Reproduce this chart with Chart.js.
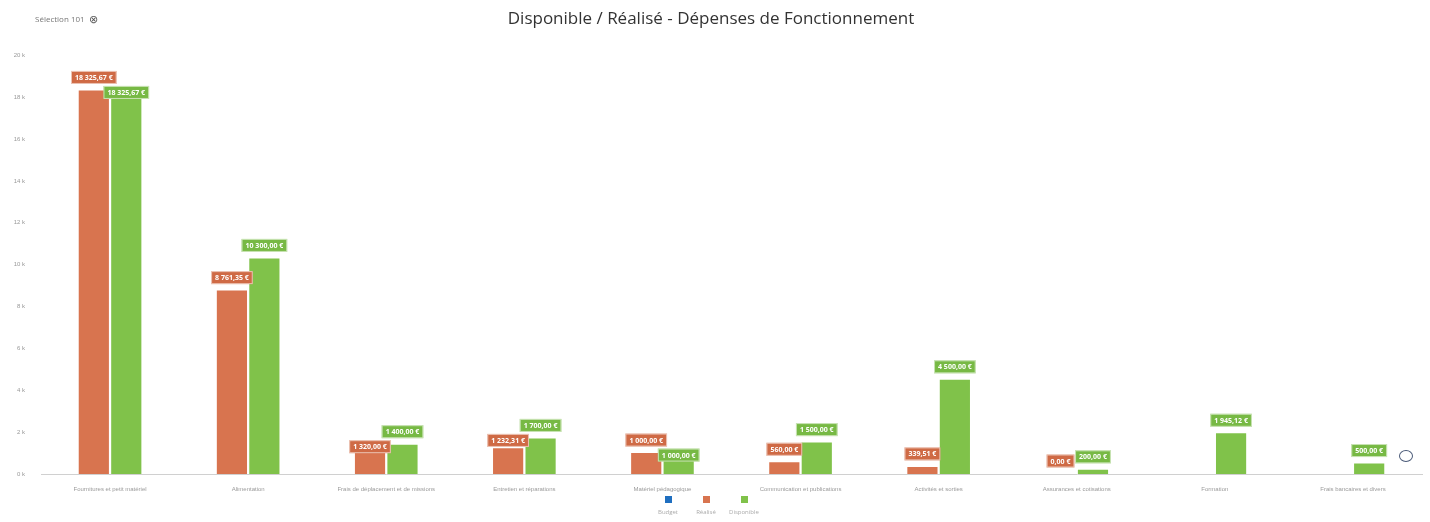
<!DOCTYPE html>
<html lang="fr">
<head>
<meta charset="utf-8">
<title>Disponible / Réalisé - Dépenses de Fonctionnement</title>
<script src="https://cdn.jsdelivr.net/npm/chart.js@4/dist/chart.umd.min.js"></script>
<style>
  html, body { margin: 0; padding: 0; background: #fff; }
  #wrap { position: relative; width: 1430px; height: 522px; font-family: "Open Sans", sans-serif; }
  #selection { position: absolute; left: 35px; top: 11px; font-size: 8px; color: #777; }
  #selection span { font-size: 11px; color: #555; margin-left: 4px; vertical-align: -1px; }
  #ring { position: absolute; left: 1399px; top: 450px; width: 12px; height: 10px; border: 1.5px solid #4a5a78; border-radius: 50%; }
  #legend { position: absolute; left: 649px; top: 496px; display: flex; }
  #legend .item { width: 38px; display: flex; flex-direction: column; align-items: center; }
  #legend .box { width: 7px; height: 7px; }
  #legend .txt { font-size: 6px; color: #aaa; margin-top: 5px; white-space: nowrap; }
</style>
</head>
<body>
<div id="wrap">
  <canvas id="chart" width="1430" height="522"></canvas>
  <div id="selection">Sélection 101<span>⊗</span></div>
  <div id="ring"></div>
  <div id="legend"></div>
</div>
<script>
// catégories de dépenses
var categories = [
  'Fournitures et petit matériel',
  'Alimentation',
  'Frais de déplacement et de missions',
  'Entretien et réparations',
  'Matériel pédagogique',
  'Communication et publications',
  'Activités et sorties',
  'Assurances et cotisations',
  'Formation',
  'Frais bancaires et divers'
];
var seriesNames = ['Budget', 'Réalisé', 'Disponible'];
var seriesColors = ['#1f6fc0', '#d8744f', '#80c24a'];
var labelColors = ['#1f6fc0', '#cf6a45', '#77b944'];

var budget = [];
var realise = [18325.67, 8761.35, 1320.00, 1232.31, 1000.00, 560.00, 339.51, 0, null, null];
var disponible = [18325.67, 10300.00, 1400.00, 1700.00, 1000.00, 1500.00, 4500.00, 200.00, 1945.12, 500.00];

var yMax = 20000;
var yStep = 2000;

function euro(v) {
    var parts = v.toFixed(2).split('.');
    var ent = parts[0].replace(/\B(?=(\d{3})+(?!\d))/g, ' ');
    return ent + ',' + parts[1] + ' €';
}

// etiquettes de valeur au-dessus des barres
var valueLabels = {
    id: 'valueLabels',
    afterDatasetsDraw: function (chart) {
        var ctx = chart.ctx;
        ctx.save();
        ctx.font = 'bold 7px "Open Sans", sans-serif';
        ctx.textAlign = 'center';
        ctx.textBaseline = 'middle';
        var h = 13;
        for (var i = 0; i < categories.length; i++) {
            var items = [];
            chart.data.datasets.forEach(function (ds, d) {
                var meta = chart.getDatasetMeta(d);
                if (meta.hidden || ds.hidden) return;
                var v = ds.data[i];
                if (v === null || v === undefined) return;
                var bar = meta.data[i];
                var txt = euro(v);
                items.push({ v: v, d: d, x: bar.x, cy: bar.y - 13, w: ctx.measureText(txt).width + 8, txt: txt });
            });
            // decaler l'etiquette basse si elles se chevauchent
            if (items.length === 2) {
                var a = items[0], b = items[1];
                var up = b.v > a.v ? b : a;
                var low = up === a ? b : a;
                var overlapX = Math.abs(a.x - b.x) < (a.w + b.w) / 2;
                if (overlapX && Math.abs(a.cy - b.cy) < h + 2) {
                    low.cy = up.cy + h + 2;
                }
            }
            items.forEach(function (it) {
                ctx.fillStyle = labelColors[it.d];
                ctx.fillRect(it.x - it.w / 2, it.cy - h / 2, it.w, h);
                ctx.strokeStyle = 'rgba(255,255,255,0.6)';
                ctx.lineWidth = 1;
                ctx.strokeRect(it.x - it.w / 2 + 0.5, it.cy - h / 2 + 0.5, it.w - 1, h - 1);
                ctx.fillStyle = '#fff';
                ctx.fillText(it.txt, it.x, it.cy + 0.5);
            });
        }
        ctx.restore();
    }
};

var chart = new Chart(document.getElementById('chart').getContext('2d'), {
    type: 'bar',
    data: {
        labels: categories,
        datasets: [
            { label: seriesNames[0], data: budget, backgroundColor: seriesColors[0], hidden: true },
            { label: seriesNames[1], data: realise, backgroundColor: seriesColors[1] },
            { label: seriesNames[2], data: disponible, backgroundColor: seriesColors[2] }
        ]
    },
    options: {
        responsive: false,
        animation: false,
        categoryPercentage: 0.47,
        barPercentage: 0.93,
        layout: { padding: { left: 0, right: 8, top: 0, bottom: 30 } },
        plugins: {
            legend: { display: false },
            tooltip: { enabled: false },
            title: {
                display: true,
                text: 'Disponible / Réalisé - Dépenses de Fonctionnement',
                color: '#333',
                font: { family: '"Open Sans", sans-serif', size: 17, weight: 'normal' },
                padding: { top: 9, bottom: 26 }
            }
        },
        scales: {
            x: {
                grid: { display: false },
                border: { display: true, color: '#d0d0d0' },
                ticks: { color: '#9a9a9a', font: { size: 6 }, maxRotation: 0, autoSkip: false, padding: 4 },
                afterFit: function (s) { s.height = 18; }
            },
            y: {
                min: 0,
                max: yMax,
                grid: { display: false, drawTicks: false },
                border: { display: false },
                ticks: {
                    stepSize: yStep,
                    color: '#999',
                    font: { size: 6 },
                    padding: 16,
                    callback: function (v) { return (v / 1000) + ' k'; }
                },
                afterFit: function (s) { s.width = 41; }
            }
        }
    },
    plugins: [valueLabels]
});

// legende
var legend = document.getElementById('legend');
seriesNames.forEach(function (n, i) {
    var item = document.createElement('div');
    item.className = 'item';
    item.innerHTML = '<div class="box" style="background:' + seriesColors[i] + '"></div><div class="txt">' + n + '</div>';
    legend.appendChild(item);
});
</script>
</body>
</html>
